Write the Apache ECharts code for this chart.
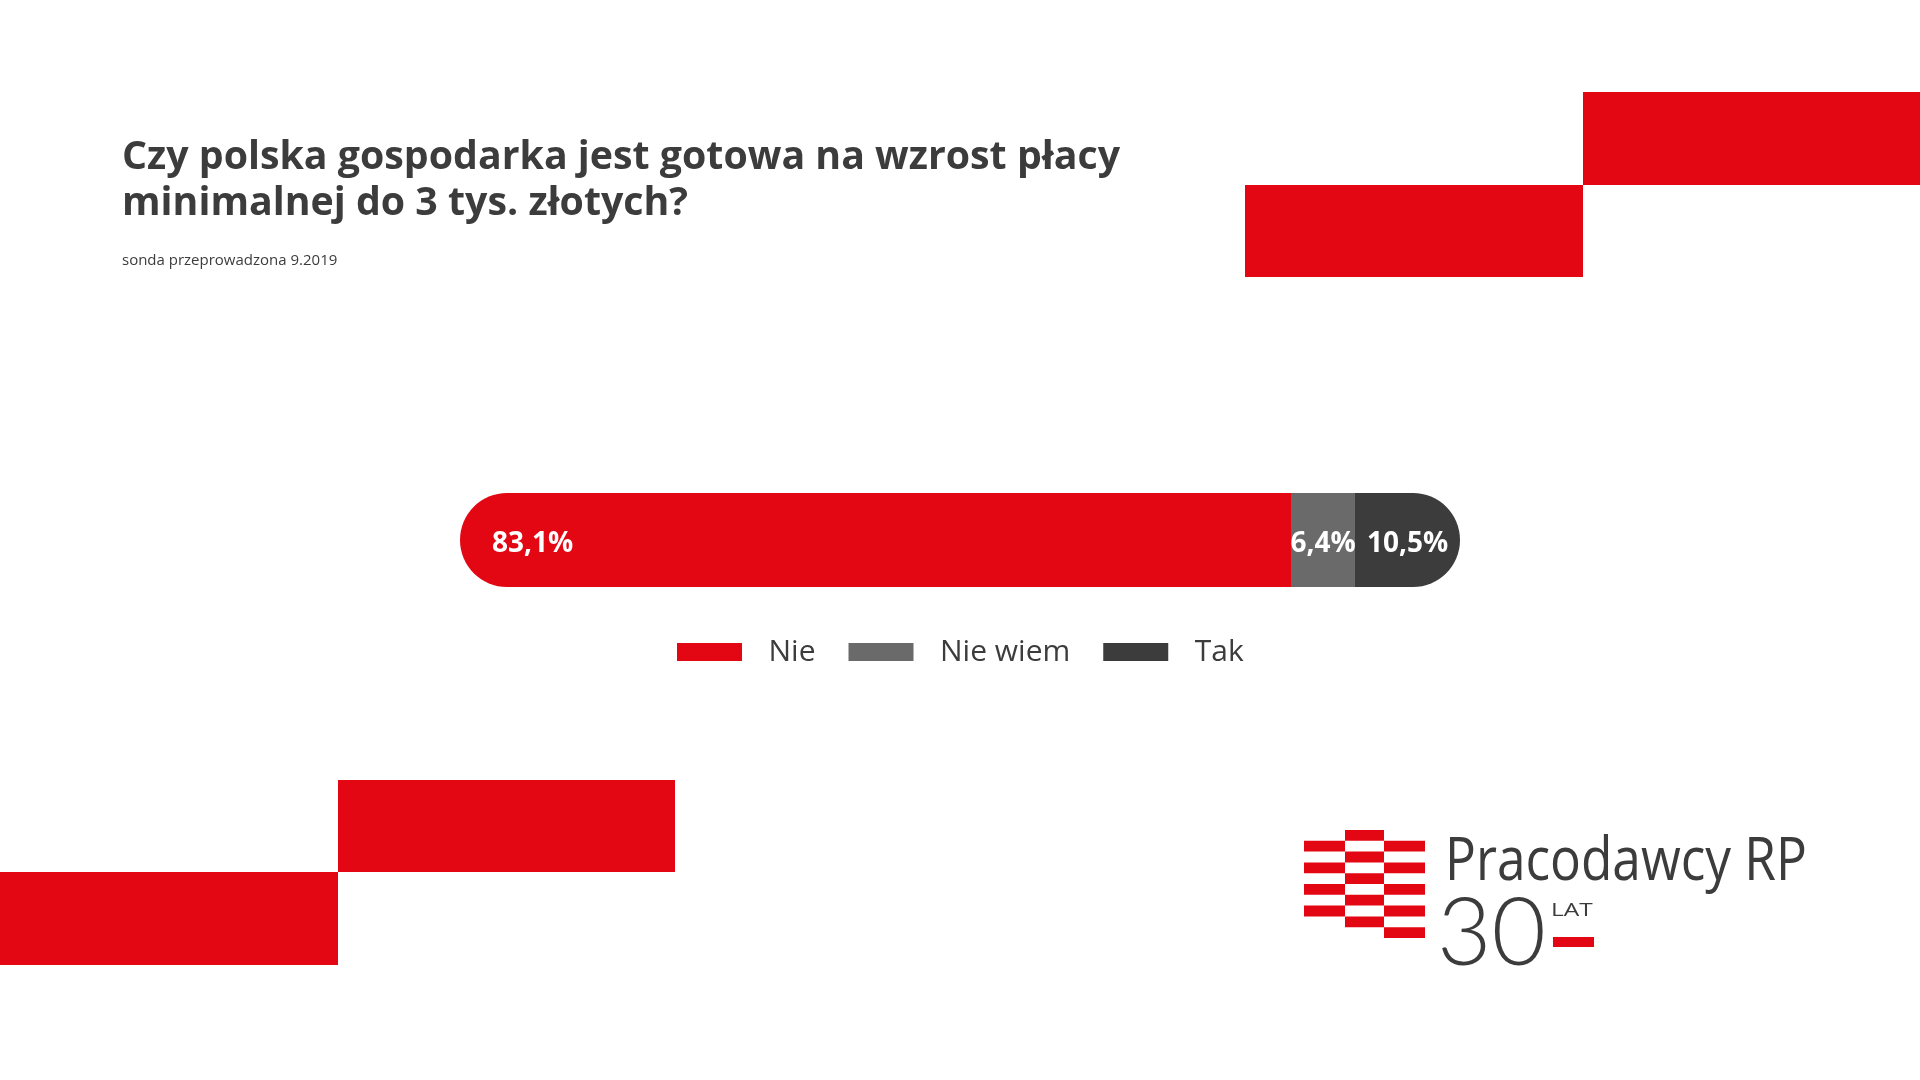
<!DOCTYPE html>
<html>
<head>
<meta charset="utf-8">
<script src="https://cdn.jsdelivr.net/npm/echarts@6/dist/echarts.min.js"></script>
<style>
html,body{margin:0;padding:0;background:#fff;}
#chart{width:1920px;height:1080px;}
</style>
</head>
<body>
<div id="chart"></div>
<script>
// ---- data ----
var titleText = 'Czy polska gospodarka jest gotowa na wzrost płacy\nminimalnej do 3 tys. złotych?';
var subtitleText = 'sonda przeprowadzona 9.2019';
var categories = ['Odpowiedź'];
var seriesNames = ['Nie', 'Nie wiem', 'Tak'];
var nieValues = [83.1];
var nieWiemValues = [6.4];
var takValues = [10.5];

// ---- styles ----
var RED = '#e30613';
var GRAY = '#6a6a6a';
var DARK = '#3c3c3c';
var TEXT = '#3c3c3c';
var FONT = '"Open Sans", "Noto Sans", sans-serif';

function fmt(p) {
  return p.value.toFixed(1).replace('.', ',') + '%';
}

var chart = echarts.init(document.getElementById('chart'), null, {renderer: 'canvas'});

// logo stripes pattern (decoration)
var logoRects = [];
var colX = [1304, 1345, 1384];
var colW = [41, 39, 41];
var rowY0 = 830, rowH = 10.8;
var pattern = [[1],[0,2],[1],[0,2],[1],[0,2],[1],[0,2],[1],[2]];
pattern.forEach(function (cols, r) {
  cols.forEach(function (c) {
    logoRects.push({
      type: 'rect',
      shape: {x: colX[c], y: rowY0 + r * rowH, width: colW[c], height: rowH},
      style: {fill: RED}
    });
  });
});

var labelBase = {show: true, color: '#fff', fontFamily: FONT, fontSize: 28, fontWeight: 'bold', offset: [0, 4], formatter: fmt};

var option = {
  backgroundColor: '#ffffff',
  textStyle: {fontFamily: FONT},
  title: [
    {
      text: titleText,
      left: 122,
      top: 135,
      padding: 0,
      textStyle: {fontFamily: FONT, fontSize: 39.3, fontWeight: 'bold', color: TEXT, lineHeight: 46}
    },
    {
      text: subtitleText,
      left: 122,
      top: 252,
      padding: 0,
      textStyle: {fontFamily: FONT, fontSize: 15, fontWeight: 'normal', color: TEXT, lineHeight: 18}
    }
  ],
  legend: {
    data: seriesNames,
    left: 677,
    top: 636,
    itemWidth: 65,
    itemHeight: 18,
    itemGap: 33,
    icon: 'rect',
    padding: 0,
    textStyle: {fontFamily: FONT, fontSize: 30, color: TEXT, padding: [0, 0, 0, 21.5], lineHeight: 32}
  },
  grid: {left: 460, right: 460, top: 493, height: 94, containLabel: false},
  xAxis: {type: 'value', min: 0, max: 100, show: false},
  yAxis: {type: 'category', data: categories, show: false},
  series: [
    {
      name: seriesNames[0], type: 'bar', stack: 'all', data: nieValues,
      barWidth: 94,
      itemStyle: {color: RED, borderRadius: [47, 0, 0, 47]},
      label: Object.assign({}, labelBase, {position: 'insideLeft', distance: 32})
    },
    {
      name: seriesNames[1], type: 'bar', stack: 'all', data: nieWiemValues,
      barWidth: 94,
      itemStyle: {color: GRAY},
      label: Object.assign({}, labelBase, {position: 'inside'})
    },
    {
      name: seriesNames[2], type: 'bar', stack: 'all', data: takValues,
      barWidth: 94,
      itemStyle: {color: DARK, borderRadius: [0, 47, 47, 0]},
      label: Object.assign({}, labelBase, {position: 'inside'})
    }
  ],
  graphic: [
    // decorative blocks
    {type: 'rect', shape: {x: 1583, y: 92, width: 337, height: 93}, style: {fill: RED}, silent: true},
    {type: 'rect', shape: {x: 1245, y: 185, width: 338, height: 92}, style: {fill: RED}, silent: true},
    {type: 'rect', shape: {x: 338, y: 780, width: 337, height: 92}, style: {fill: RED}, silent: true},
    {type: 'rect', shape: {x: 0, y: 872, width: 338, height: 93}, style: {fill: RED}, silent: true},
    // logo
    {type: 'group', silent: true, children: logoRects},
    {type: 'text', silent: true, x: 1445, y: 863, scaleX: 0.856,
     style: {text: 'Pracodawcy RP', fill: TEXT, font: 'normal 60px "Open Sans", sans-serif', verticalAlign: 'middle'}},
    {type: 'text', silent: true, x: 1437, y: 935,
     style: {text: '30', fill: TEXT, font: '300 94px Lato, "Open Sans", sans-serif', verticalAlign: 'middle'}},
    {type: 'text', silent: true, x: 1551, y: 911, scaleX: 1.4,
     style: {text: 'LAT', fill: TEXT, font: 'normal 17.5px "Open Sans", sans-serif', verticalAlign: 'middle'}},
    {type: 'rect', silent: true, shape: {x: 1553, y: 937, width: 41, height: 10}, style: {fill: RED}}
  ]
};

chart.setOption(option);
</script>
</body>
</html>
